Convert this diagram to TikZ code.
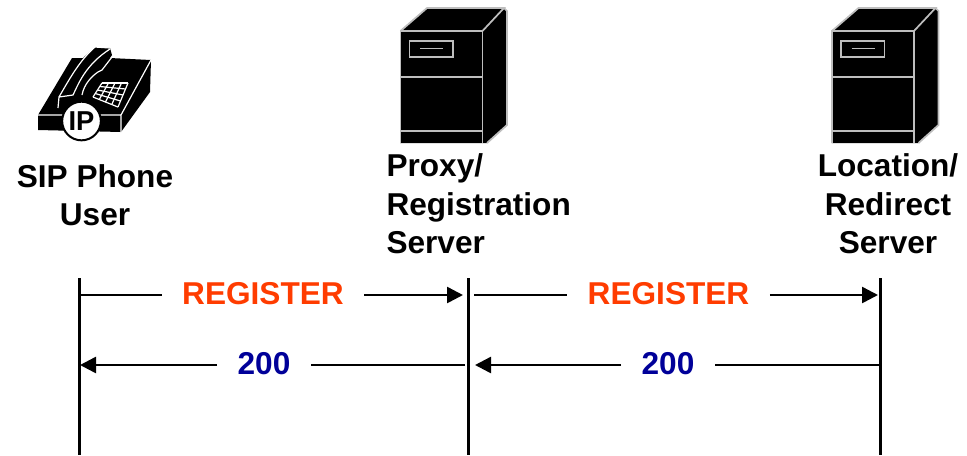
\documentclass[tikz,border=0pt]{standalone}
\usepackage{fontspec}
\setmainfont{Liberation Sans}
\usetikzlibrary{arrows.meta,calc}

\definecolor{regcolor}{RGB}{255,60,0}
\definecolor{okcolor}{RGB}{0,0,153}
\definecolor{edgecolor}{RGB}{190,190,190}

\tikzset{
  every picture/.style={line width=0.75pt},
  title/.style={font=\bfseries\fontsize{23.7}{28.8}\selectfont,inner sep=0pt},
  msg/.style={font=\bfseries\fontsize{23.7}{28.8}\selectfont,inner xsep=15pt,inner ysep=0pt,text height=17.2pt,text depth=3pt},
  lifeline/.style={line width=2.25pt},
  msgline/.style={line width=1.9pt},
  msgarrow/.style={msgline,-{Triangle[length=12pt,width=12pt]}},
  iconedge/.style={edgecolor,line width=1.3pt},
  phoneedge/.style={white,line width=0.9pt}
}

\begin{document}
\begin{tikzpicture}[x=0.75pt,y=0.75pt,yscale=-1,xscale=1]
\useasboundingbox (0,0) rectangle (967,455);

%Shape: Phone
\fill (38,115) -- (72,58) -- (83,58) -- (95,47) -- (110,48) -- (112,55) -- (110,58) -- (151,60) -- (150,92) -- (121,132) -- (38,130) -- cycle;
\draw [phoneedge] (38,115) -- (121,115) -- (121,132) (121,115) -- (151,60);
\draw [phoneedge] (58,108) -- (59,97) .. controls (70,78) and (80,60) .. (95,47) -- (110,48);
\draw [phoneedge] (59,97) -- (73,95) .. controls (78,85) and (85,65) .. (110,49);
\draw [phoneedge] (82,95) .. controls (84,84) and (92,76) .. (98,72) -- (102,70) -- (112,57);
%keypad
\foreach \k in {0,0.25,0.5,0.75,1} {
  \draw [phoneedge] ($(102,83)!\k!(128,83)$) -- ($(93,97)!\k!(118,107)$);
  \draw [phoneedge] ($(102,83)!\k!(93,97)$) -- ($(128,83)!\k!(118,107)$);
}
%IP badge
\node (ipbadge) [circle,draw,fill=white,line width=1.5pt,minimum size=29pt,inner sep=0pt,font=\bfseries\fontsize{20.5}{20.5}\selectfont] at (81.5,121) {IP};

%Shape: Servers
\foreach \sx in {0,431.5} {
\begin{scope}[shift={(\sx,0)}]
  \fill (400,31) -- (427,8) -- (504,8) -- (507,11) -- (507,125) -- (487,143) -- (400,143) -- cycle;
  \draw [iconedge] (400.5,143) -- (400.5,31) -- (482.5,31) -- (482.5,143);
  \draw [iconedge] (400.5,31) -- (427,8) -- (504,8) -- (482.5,31);
  \draw [iconedge] (504,8) -- (507,11) -- (507,125) -- (487,143);
  \draw [iconedge] (400.5,77) -- (482.5,77) (400.5,131) -- (482.5,131);
  \draw [iconedge] (409.5,41) rectangle (453,57);
  \draw [iconedge] (420,48.5) -- (443,48.5);
\end{scope}
}

% Text Node
\node (phoneuser) [title,align=center] at (95,195) {SIP Phone\\User};
% Text Node
\node (proxy) [title,align=left,anchor=west] at (386,204) {Proxy/\\Registration\\Server};
% Text Node
\node (location) [title,align=center] at (888,204) {Location/\\Redirect\\Server};

%Lifelines
\coordinate (phonetop) at (79,278);
\coordinate (phonebot) at (79,455);
\coordinate (proxytop) at (468,278);
\coordinate (proxybot) at (468,455);
\coordinate (locationtop) at (880,278);
\coordinate (locationbot) at (880,455);
\draw [lifeline] (phonetop) -- (phonebot);
\draw [lifeline] (proxytop) -- (proxybot);
\draw [lifeline] (locationtop) -- (locationbot);

%Messages
\node (regleft) [msg,text=regcolor] at (263,295) {REGISTER};
\node (regright) [msg,text=regcolor] at (668.5,295) {REGISTER};
\node (okleft) [msg,text=okcolor] at (264,365) {200};
\node (okright) [msg,text=okcolor] at (668,365) {200};

\coordinate (a) at (78,295);
\coordinate (b) at (463,295);
\coordinate (c) at (474,295);
\coordinate (d) at (878,295);
\coordinate (e) at (465,365);
\coordinate (f) at (80,365);
\coordinate (g) at (880,365);
\coordinate (h) at (475,365);

\draw [msgline] (a) -- (regleft);
\draw [msgarrow] (regleft) -- (b);
\draw [msgline] (c) -- (regright);
\draw [msgarrow] (regright) -- (d);
\draw [msgline] (e) -- (okleft);
\draw [msgarrow] (okleft) -- (f);
\draw [msgline] (g) -- (okright);
\draw [msgarrow] (okright) -- (h);

\end{tikzpicture}
\end{document}
